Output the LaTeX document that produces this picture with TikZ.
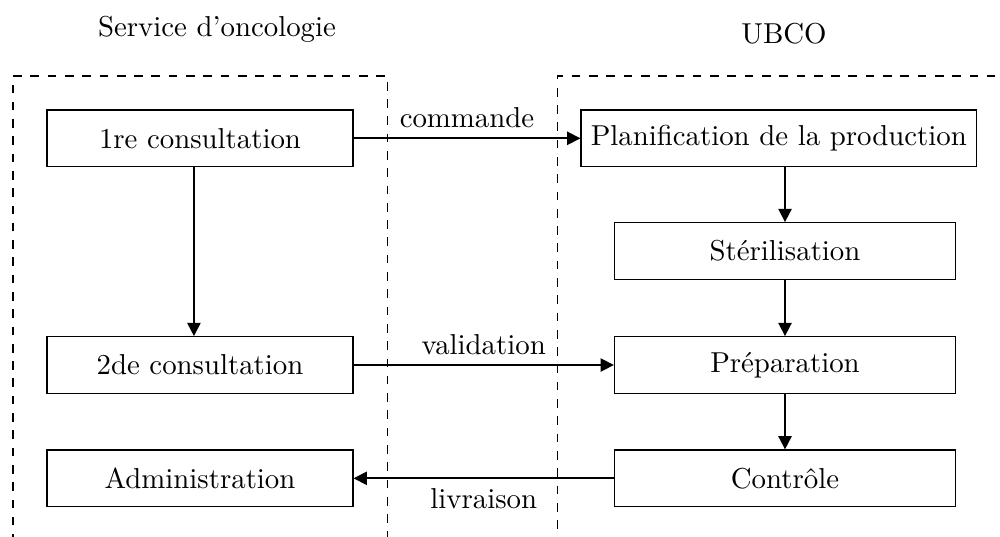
\documentclass[tikz,border=0pt]{standalone}
\usetikzlibrary{arrows.meta}
\begin{document}
\begin{tikzpicture}[x=0.347pt,y=-0.347pt,
  box/.style={draw,line width=0.4pt,minimum height=19.67pt,inner sep=3.4pt,font=\fontsize{10}{12}\selectfont},
  lbox/.style={box,minimum width=106.2pt},
  rbox/.style={box,minimum width=118.4pt},
  arr/.style={line width=0.6pt,-{Triangle[length=4.6pt,width=4.6pt]}},
  zone/.style={draw,dashed,line width=0.4pt},
  title/.style={anchor=base,font=\fontsize{10}{12}\selectfont},
  lab/.style={font=\fontsize{10}{12}\selectfont}]
\useasboundingbox (0,0) rectangle (1000,536);
\clip (0,0) rectangle (1000,536);
% zones
\draw[zone] (13,560) -- (13,76) -- (387.7,76) -- (387.7,560);
\draw[zone] (1030,76) -- (557.7,76) -- (557.7,560);
% titles
\node[title] (t1) at (217,36.7) {Service d'oncologie};
\node[title] (t2) at (784,43.3) {UBCO};
% nodes
\node[lbox] (c1) at (200,138.3) {1re consultation};
\node[lbox] (c2) at (200,365) {2de consultation};
\node[lbox] (adm) at (200,478.3) {Administration};
\node[box] (plan) at (778.8,138.3) {Planification de la production};
\node[rbox] (ster) at (785,251) {Stérilisation};
\node[rbox] (prep) at (785,365) {Préparation};
\node[rbox] (ctrl) at (785,478.3) {Contrôle};
% connectors
\draw[arr] ([xshift=-2.1pt]c1.south) -- ([xshift=-2.1pt]c2.north);
\draw[arr] (plan.south -| ster.north) -- (ster.north);
\draw[arr] (ster) -- (prep);
\draw[arr] (prep) -- (ctrl);
\draw[arr] (c1.east) -- node[lab,above] {commande} (plan.west);
\draw[arr] (c2.east) -- node[lab,above] {validation} (prep.west);
\draw[arr] (ctrl.west) -- node[lab,below] {livraison} (adm.east);
\end{tikzpicture}
\end{document}
